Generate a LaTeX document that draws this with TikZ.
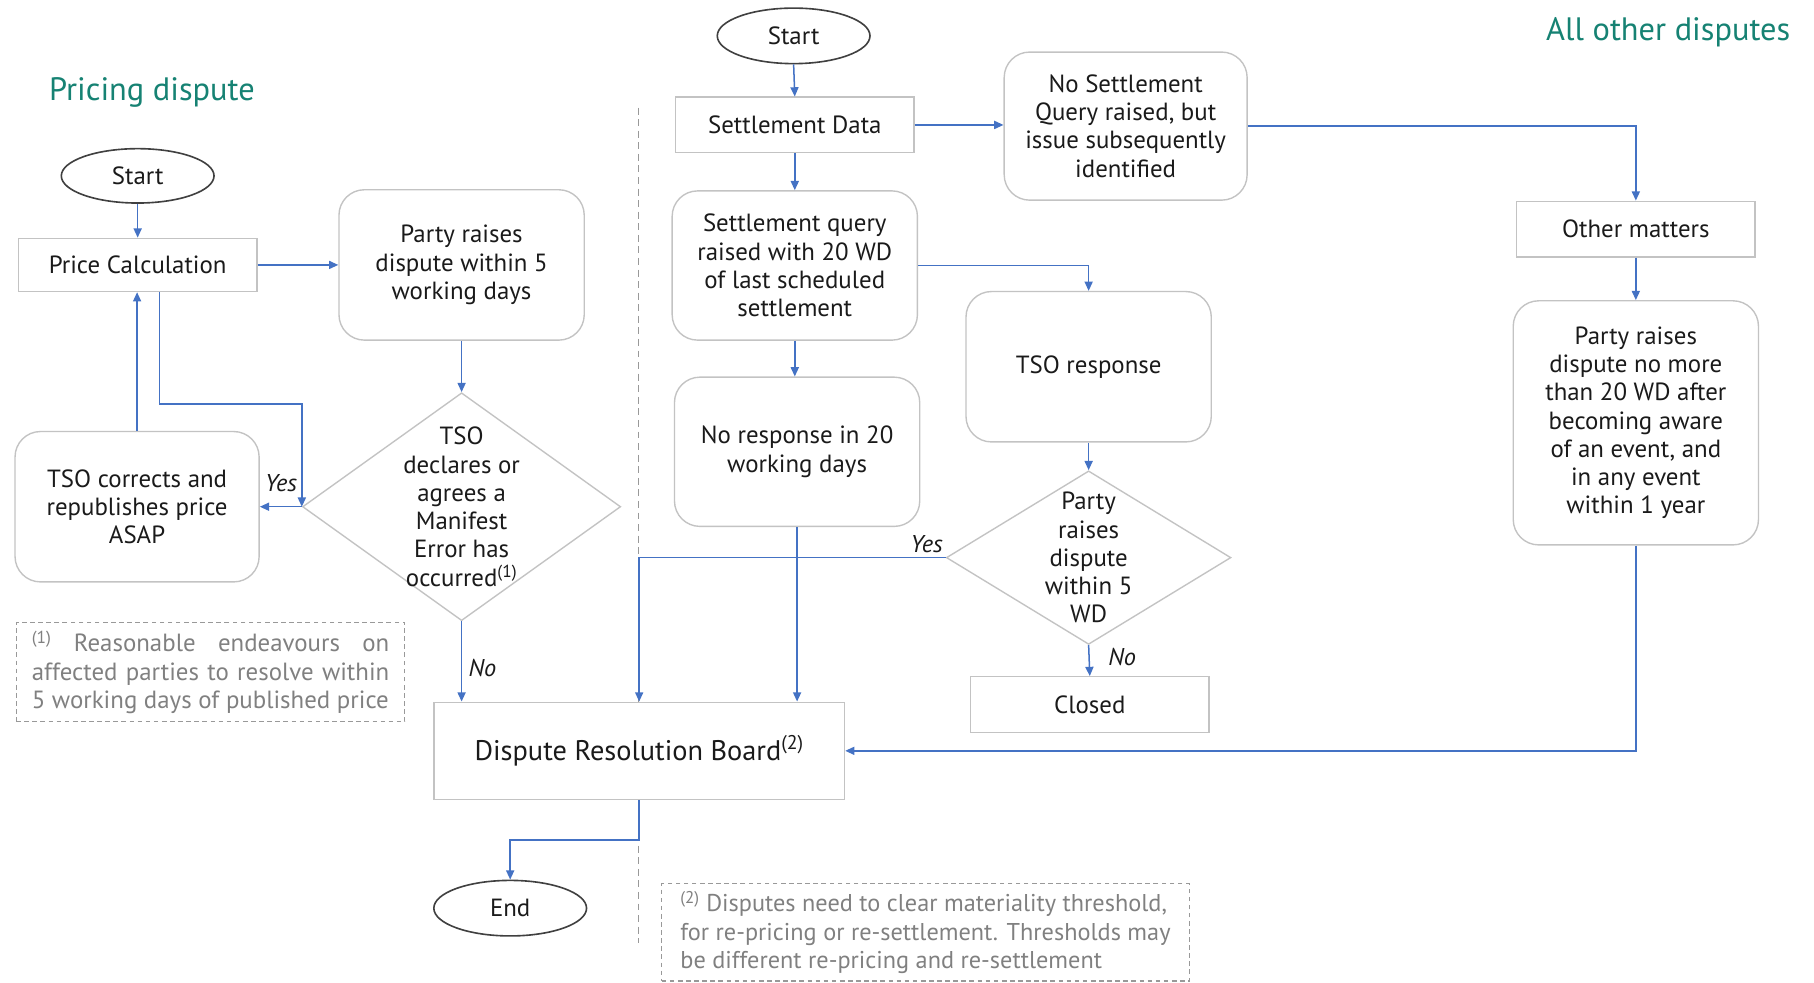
\documentclass[tikz,border=0pt]{standalone}
\usepackage{fontspec}
\setmainfont{PT Sans}
\usetikzlibrary{shapes.geometric,arrows.meta,calc}
\definecolor{arrowblue}{RGB}{68,114,196}
\definecolor{boxgray}{RGB}{195,195,195}
\definecolor{tealtitle}{RGB}{22,130,115}
\definecolor{notegray}{RGB}{128,128,128}
\definecolor{txt}{RGB}{26,26,26}
\begin{document}
\begin{tikzpicture}[x=1pt,y=1pt,
  every node/.style={font=\fontsize{21.5}{24.4}\selectfont, text=txt},
  rectbox/.style={draw=boxgray, line width=1.2pt, rectangle, align=center, inner sep=0pt},
  roundbox/.style={draw=boxgray, line width=1.2pt, rectangle, rounded corners=22pt, align=center, inner sep=0pt, minimum width=212pt, minimum height=130pt},
  oval/.style={draw=black!75, line width=1.4pt, ellipse, inner sep=0pt, minimum width=132pt, minimum height=47pt},
  dia/.style={draw=boxgray, line width=1.2pt, diamond, inner sep=0pt},
  arr/.style={draw=arrowblue, line width=1.3pt, -{Triangle[length=8pt,width=7pt]}},
  lbl/.style={font=\itshape\fontsize{21}{24}\selectfont},
  titletext/.style={font=\fontsize{28}{30}\selectfont, text=tealtitle},
  notebox/.style={draw=notegray!80, dashed, dash pattern=on 4pt off 3pt, line width=1pt, text=notegray, inner sep=0pt, align=left},
  divider/.style={draw=notegray!80, dashed, dash pattern=on 6pt off 4pt, line width=1pt}
]
\useasboundingbox (0,0) rectangle (1568,-849);

% titles
\node[titletext, anchor=west] (t1) at (39,-80) {Pricing dispute};
\node[titletext, anchor=east] (t2) at (1551,-28) {All other disputes};

% divider
\draw[divider] (552,-93) -- (552,-607);
\draw[divider] (552,-691) -- (552,-815);

% left column
\node[oval] (s1) at (119,-152) {Start};
\node[rectbox, minimum width=206pt, minimum height=46pt] (pc) at (119,-229) {Price Calculation};
\node[roundbox] (pr1) at (399,-229) {Party raises\\dispute within 5\\working days};
\node[dia, minimum width=275pt, minimum height=197pt] (d1) at (399,-438) {};
\node[align=center, inner sep=0pt] (d1t) at (d1.center) {TSO\\declares or\\agrees a\\Manifest\\Error has\\occurred\textsuperscript{(1)}};
\node[roundbox, minimum width=211pt] (tc) at (118.5,-438) {TSO corrects and\\republishes price\\ASAP};
\node[notebox, minimum width=336pt, minimum height=86pt, font=\fontsize{21.5}{24.5}\selectfont] (n1) at (182,-581)
  {\makebox[309pt][l]{\textsuperscript{(1)}\hfill Reasonable\hfill endeavours\hfill on}\\
   \makebox[309pt][l]{affected\hfill parties\hfill to\hfill resolve\hfill within}\\
   5 working days of published price};

% middle column
\node[oval, minimum height=48pt] (s2) at (686,-31) {Start};
\node[rectbox, minimum width=206pt, minimum height=48pt] (sd) at (687,-108) {Settlement Data};
\node[roundbox, minimum width=210pt, minimum height=128pt] (ns) at (973,-109) {No Settlement\\Query raised, but\\issue subsequently\\identified};
\node[roundbox, minimum height=129pt] (sq) at (687,-229.5) {Settlement query\\raised with 20 WD\\of last scheduled\\settlement};
\node[roundbox] (tr) at (941,-317) {TSO response};
\node[roundbox, minimum height=129pt] (nr) at (689,-390.5) {No response in 20\\working days};
\node[dia, minimum width=246pt, minimum height=150pt] (d2) at (941,-482) {};
\node[align=center, inner sep=0pt] (d2t) at (d2.center) {Party\\raises\\dispute\\within 5\\WD};
\node[rectbox, minimum width=206pt, minimum height=48pt] (cl) at (942,-609) {Closed};
\node[rectbox, minimum width=355pt, minimum height=84pt, font=\fontsize{24.5}{28}\selectfont] (drb) at (552.5,-649) {Dispute Resolution Board\textsuperscript{(2)}};
\node[oval, minimum height=48pt] (stop) at (441,-785) {End};
\node[notebox, minimum width=456pt, minimum height=84pt, font=\fontsize{21}{24.5}\selectfont] (n2) at (800,-806)
  {\textsuperscript{(2)} Disputes need to clear materiality threshold,\\
   for re-pricing or re-settlement. Thresholds may\\
   be different re-pricing and re-settlement};

% right column
\node[rectbox, minimum width=206pt, minimum height=48pt] (om) at (1414,-198) {Other matters};
\node[roundbox, minimum height=211pt] (pr3) at (1414,-365.5) {Party raises\\dispute no more\\than 20 WD after\\becoming aware\\of an event, and\\in any event\\within 1 year};

% connectors left
\draw[arr] (s1.south) -- (pc.north);
\draw[arr] (pc.east) -- (pr1.west);
\draw[arr] (pr1.south) -- (d1.north);
\draw[arr] ($(pc.south)+(19,0)$) |- ($(d1.west)+(0,89)$) -- (d1.west);
\draw[arr] (d1.west) -- (d1.west -| tc.east);
\draw[arr] (tc.north) -- (tc.north |- pc.south);
\draw[arr] (d1.south) -- (d1.south |- drb.north);
\node[lbl] (ly1) at (243,-418) {Yes};
\node[lbl] (ln1) at (417,-577) {No};

% connectors middle
\draw[arr] (s2.south) -- (sd.north);
\draw[arr] (sd.east) -- (sd.east -| ns.west);
\draw[arr] (sd.south) -- (sq.north);
\draw[arr] (sq.east) -| (tr.north);
\draw[arr] (sq.south) -- (sq.south |- nr.north);
\draw[arr] (tr.south) -- (d2.north);
\draw[arr] (d2.south) -- (cl.north);
\draw[arr] (d2.west) -| (drb.north);
\draw[arr] (nr.south) -- (nr.south |- drb.north);
\draw[arr] (drb.south) |- ($(drb.south)!0.5!(stop.north)$) -| (stop.north);
\node[lbl] (ly2) at (801,-470) {Yes};
\node[lbl] (ln2) at (970,-568) {No};

% connectors right
\draw[arr] (ns.east) -| (om.north);
\draw[arr] (om.south) -- (pr3.north);
\draw[arr] (pr3.south) |- (drb.east);
\end{tikzpicture}
\end{document}
